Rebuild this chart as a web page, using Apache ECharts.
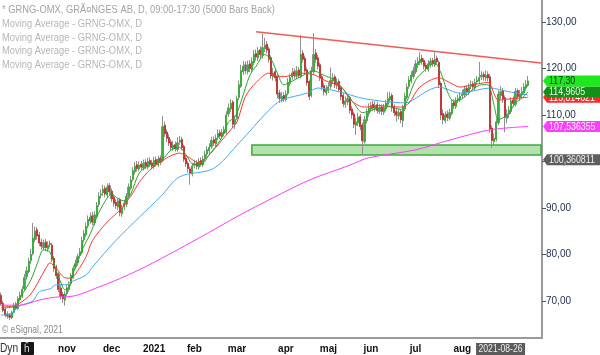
<!DOCTYPE html>
<html><head><meta charset="utf-8">
<script src="https://cdn.jsdelivr.net/npm/echarts@6/dist/echarts.min.js"></script>
<style>html,body{margin:0;padding:0;background:#fff}#c{width:600px;height:355px}</style>
</head><body><div id="c"></div>
<script>
// ---- categories (Swedish trading days) ----
const startDate = '2020-09-18';
const categoryCount = 255;
const holidays = ['2020-12-24','2020-12-25','2020-12-31','2021-01-01','2021-01-06','2021-04-02','2021-04-05','2021-05-13','2021-06-25'];
const monthKeys = ['2020-11','2020-12','2021-01','2021-02','2021-03','2021-04','2021-05','2021-06','2021-07','2021-08','2021-09'];
const monthText = ['nov','dec','2021','feb','mar','apr','maj','jun','jul','aug',''];
const yTicks = [70,80,90,100,110,120,130];
const cursorDate = '2021-08-26';

// ---- price data ----
const openP = [71.2,69.5,68.2,67.2,67.0,66.4,67.6,69.2,68.4,70.3,71.0,72.6,75.2,76.3,78.7,80.2,83.2,85.3,84.2,82.6,
81.5,82.7,81.2,82.3,82.0,79.2,77.3,75.8,72.8,71.4,70.2,71.6,72.5,73.8,75.2,77.3,78.2,79.8,80.4,83.2,
84.3,86.2,87.2,88.3,86.8,88.2,90.8,92.8,93.3,94.2,92.8,94.8,93.6,92.3,91.2,90.2,91.8,88.8,90.2,90.8,
92.6,94.3,96.2,97.8,99.3,98.4,99.4,98.6,99.8,98.8,100.2,99.7,98.9,100.4,99.3,100.7,100.2,107.8,106.3,105.2,
104.2,102.8,103.6,102.6,104.2,104.7,103.2,100.7,99.6,98.4,97.3,99.2,99.7,98.8,100.2,99.3,100.7,101.6,102.3,103.2,
104.7,103.8,105.2,106.2,105.3,106.0,106.3,110.2,111.3,112.8,108.2,109.3,113.8,116.2,119.3,120.8,119.3,121.0,119.8,121.3,
123.2,122.3,124.0,122.8,124.3,125.2,124.2,122.3,118.2,119.3,118.3,114.8,113.2,114.2,113.3,114.7,116.8,118.2,119.3,118.3,
119.7,118.3,123.3,122.2,119.7,117.2,114.2,119.3,123.3,122.3,120.8,118.2,116.3,114.8,115.3,116.2,117.3,118.2,116.3,117.2,
115.8,114.2,112.3,112.8,113.7,111.3,110.2,107.8,108.3,109.7,107.8,104.3,108.8,110.3,111.3,112.3,111.3,112.2,110.8,111.7,
110.6,111.3,112.3,113.3,114.2,111.8,110.7,109.8,110.7,108.8,111.3,113.8,116.2,117.3,118.3,119.3,120.8,121.3,122.2,121.7,
120.7,119.8,120.8,121.7,120.8,122.2,121.3,116.8,110.3,108.8,110.2,109.3,110.3,112.7,111.8,113.2,113.3,114.2,114.3,115.7,
114.8,116.2,116.7,115.8,117.2,117.3,118.2,118.7,118.0,118.7,118.2,107.2,104.3,104.8,108.3,114.2,115.3,113.7,109.3,110.2,
110.8,113.2,112.3,115.2,113.8,114.3,114.8,115.8,116.4];
const closeP = [69.4,68.0,67.0,66.8,66.5,67.5,69.0,68.5,70.5,71.2,72.5,75.0,76.5,78.5,80.0,83.5,85.0,84.0,82.5,81.8,
82.5,81.5,82.0,82.2,79.0,77.0,75.5,72.5,71.0,70.5,71.5,72.8,73.5,75.5,77.0,78.0,79.5,80.5,83.0,84.5,
86.0,87.5,88.0,87.0,88.5,90.5,92.5,93.0,94.0,93.0,94.5,93.5,92.0,91.0,90.5,91.5,89.0,90.0,91.0,92.5,
94.5,96.0,98.0,99.0,98.5,99.2,98.8,99.5,99.0,100.0,99.5,99.0,100.2,99.5,100.5,99.8,107.5,106.0,105.0,104.0,
103.0,103.5,102.8,104.0,104.5,103.0,100.5,99.5,98.5,97.5,99.0,99.5,99.0,100.0,99.5,100.5,101.5,102.5,103.0,104.5,
104.0,105.0,106.0,105.5,106.2,106.5,110.0,111.5,112.5,108.0,109.0,113.5,116.5,119.5,120.5,119.5,120.8,120.0,121.5,123.0,
122.5,123.8,123.0,124.5,125.0,124.0,122.0,118.5,119.0,118.0,114.5,113.5,114.0,113.5,114.5,117.0,118.0,119.0,118.5,119.5,
118.5,123.0,122.0,119.5,117.0,114.0,119.5,123.0,122.0,120.5,118.0,116.0,115.0,115.5,116.0,117.5,118.0,116.5,117.0,115.5,
114.0,112.5,113.0,113.5,111.0,110.0,108.0,108.5,109.5,107.5,104.5,109.0,110.5,111.5,112.0,111.5,112.0,111.0,111.5,110.8,
111.5,112.5,113.5,114.0,111.5,110.5,110.0,110.5,109.0,111.5,114.0,116.0,117.5,118.5,119.5,121.0,121.5,122.0,121.5,120.5,
120.0,121.0,121.5,121.0,122.0,121.5,116.5,110.0,109.0,110.0,109.5,110.5,112.5,112.0,113.0,113.5,114.0,114.5,115.5,115.0,
116.0,116.5,116.0,117.0,117.5,118.0,118.5,118.2,118.5,118.0,107.0,104.5,105.0,108.5,114.5,115.0,113.5,109.5,110.0,111.0,
113.0,112.5,115.0,114.0,114.5,115.0,116.0,116.5,117.3];
const lowP = [69.0,67.6,66.5,66.2,65.9,66.1,67.3,68.0,68.1,69.9,70.6,72.2,74.6,75.9,78.0,79.8,82.6,83.2,81.8,81.0,
80.9,80.8,80.6,81.5,78.4,76.3,74.8,71.9,70.3,69.6,69.0,71.0,72.0,73.3,74.8,76.8,77.6,79.1,80.0,82.6,
83.8,85.6,86.6,86.3,86.2,87.8,90.2,92.0,92.6,92.3,92.2,92.8,91.3,90.3,89.8,89.6,88.2,88.1,89.5,90.2,
92.1,93.8,95.7,97.2,97.8,97.9,98.2,98.1,98.4,98.3,98.9,98.3,98.4,98.9,98.8,99.2,99.9,105.3,104.2,103.3,
102.3,102.2,102.1,102.1,103.6,102.4,99.9,98.8,97.6,95.0,96.8,98.5,98.3,98.3,98.9,98.8,100.1,101.0,101.7,102.7,
103.3,103.2,104.6,104.8,104.8,105.4,105.8,109.6,110.6,107.2,107.0,108.9,113.2,115.8,118.6,118.8,118.7,119.2,119.2,120.7,
121.7,121.6,122.2,122.1,123.5,123.2,121.3,117.8,117.4,117.2,113.6,112.6,112.7,112.8,112.9,114.2,116.2,117.6,117.8,117.7,
117.9,117.9,121.3,118.8,116.3,113.2,113.8,118.8,121.2,119.8,117.3,115.3,114.2,114.2,114.7,115.6,116.7,115.8,115.6,114.9,
113.2,111.7,111.5,112.1,110.3,109.2,107.2,105.7,107.6,106.7,101.4,103.8,108.2,109.6,110.6,110.8,110.7,110.3,110.2,110.0,
110.0,110.8,111.8,112.7,110.7,109.7,108.6,109.0,108.2,107.4,110.8,113.3,115.6,116.8,117.8,118.8,120.1,120.7,120.8,119.8,
119.3,119.3,120.2,120.4,120.3,120.8,115.8,108.9,108.0,108.2,108.7,108.8,109.9,111.3,111.3,112.6,112.8,113.6,113.8,114.3,
114.3,115.6,115.3,115.3,116.6,116.8,117.5,117.4,117.3,117.2,106.2,102.9,103.4,104.3,107.8,113.4,112.6,106.3,108.2,109.3,
110.2,111.7,111.8,113.3,113.1,113.7,114.3,115.2,116.0];
const highP = [71.8,70.0,68.6,67.8,67.4,67.9,69.6,69.8,71.0,72.0,73.2,75.8,77.4,79.3,81.2,86.8,86.0,85.9,84.8,83.4,
83.2,83.3,82.8,83.0,82.5,79.7,77.8,76.2,73.4,72.0,72.1,73.5,74.2,76.0,77.6,78.9,80.2,81.4,83.8,85.3,
86.9,88.4,89.0,89.2,89.3,91.3,93.4,94.0,95.0,94.8,95.3,95.4,94.2,92.9,91.9,92.2,92.2,90.7,91.8,93.2,
95.3,96.9,98.8,99.9,100.1,100.0,100.1,100.4,100.5,100.8,100.9,100.3,101.0,101.1,101.2,101.3,109.8,108.6,106.9,105.9,
104.8,104.4,104.3,105.2,105.5,105.3,103.6,101.2,100.1,98.9,99.7,100.4,100.3,100.7,100.9,101.2,102.3,103.3,103.9,105.3,
105.4,105.8,106.9,106.8,107.0,107.6,110.8,112.5,113.4,113.2,109.9,114.2,117.4,120.8,121.6,121.5,121.7,121.8,122.4,124.0,
124.1,124.6,124.8,127.5,126.6,125.9,124.7,122.8,120.1,119.9,118.8,115.4,114.9,114.9,115.3,117.9,118.9,120.1,120.0,120.5,
120.3,127.2,124.0,122.8,120.2,117.6,120.4,127.6,124.2,122.9,121.3,118.8,116.9,116.4,117.0,120.2,119.0,118.7,117.9,117.7,
116.3,114.8,114.0,114.5,114.1,111.9,110.7,109.4,110.5,110.2,108.3,109.8,111.4,112.5,112.8,113.0,112.9,112.8,112.4,112.3,
112.4,113.3,114.9,115.0,114.7,112.3,111.4,111.3,111.2,112.2,114.8,116.8,118.3,119.4,120.4,121.8,122.4,123.5,122.9,122.2,
121.3,121.8,122.3,122.3,123.5,122.8,121.7,117.2,111.2,110.8,111.0,111.3,113.2,113.4,113.8,114.4,114.9,115.4,116.3,116.4,
116.8,117.4,117.3,117.8,118.4,121.4,119.4,119.3,119.6,119.4,118.8,107.8,106.0,109.3,115.3,116.2,115.8,114.2,111.2,111.9,
113.8,114.0,115.8,115.7,115.4,116.0,116.9,117.5,118.4];

// ---- moving averages as [barIndex, value] ----
const maShort = [[0,68.5],[6,68.8],[10,71.5],[14,74.5],[17,78],[20,81],[23,80.5],[26,76.5],[29,73],[30,72.4],[32,73],[35,77.5],[37,80],
[42,84.5],[45,88],[49,91.5],[52,93],[55,92],[58,91.5],[61,93],[65,97.5],[70,99.3],[76,100.5],[80,102.5],[84,103],[87,101.5],[90,99.5],
[94,99.3],[98,101.5],[103,104.5],[107,108.5],[110,109.5],[113,113],[117,118.5],[120,120.5],[124,123],[127,122],[130,119],[133,116.5],
[137,117.3],[142,118.5],[147,119.5],[152,118.5],[157,117.5],[162,115],[166,112.5],[170,110.5],[174,111],[178,111.5],[183,111.8],
[188,111.2],[191,113],[195,117.5],[199,119.5],[204,121.2],[207,119],[210,115],[213,113],[217,113.5],[222,115.5],[226,116.5],
[229,116.5],[232,112],[234,109],[238,110],[242,112.5],[246,114],[248,114.96]];
const maMid = [[0,69],[5,68.8],[9,69.6],[14,71.5],[18,74.5],[21,77],[23,78.2],[26,77],[30,75],[33,74.9],[36,76.5],[40,79.5],[43,83],
[50,87],[56,89.6],[61,92.5],[65,95.5],[70,98.2],[77,100.5],[84,101.8],[88,101],[93,99.7],[96,100.5],[101,103],[108,106.8],[111,108.5],
[115,114],[120,117],[126,119],[130,118.3],[134,118.3],[140,119],[147,118.7],[152,117.5],[160,116],[165,113],[171,111.7],[178,112],
[188,111.7],[192,112.6],[197,116],[206,118],[211,117],[216,116],[222,116.5],[229,117],[234,113.2],[240,113.5],[248,113.81]];
const maLong = [[0,67],[4,67.2],[9,69],[15,70],[18,72],[23,72.6],[26,73.5],[31,73.5],[32,73.9],[40,75.6],[43,77.3],[54,83],[65,88],
[75,92.4],[84,96.7],[100,98.5],[112,104],[126,111],[132,113.2],[144,114.7],[149,115.8],[159,115],[171,113.5],[190,112.6],[192,112.8],
[206,116],[216,114.7],[230,115.8],[239,115],[248,114.3]];
const maVeryLong = [[0,69.1],[9,69.1],[18,70.2],[28,70.9],[31,70.9],[46,73],[65,76.7],[93,83.5],[112,88.4],[128,92.2],[145,96],
[164,99.2],[173,100.8],[195,102.5],[211,104.6],[230,106.8],[248,107.54]];

// ---- annotations ----
const trendLine = [[120,127.9],[254,121.2]];
const supportZone = [[118,101.4],[254,103.55]];
const tagValues = [100.360811, 107.536355, 113.814621, 114.9605, 117.30];
const tagTexts = ['100,360811','107,536355','113,814621','114,9605','117,30'];
const tagFill = ['#5e5e5e','#ff3cff','#ff2a2a','#149014','#1ee81e'];
const tagInk = ['#f2f2f2','#ffffff','#ffffff','#eaffea','#0a2a0a'];
const legendLines = ['* GRNG-OMX, GRÃ¤NGES AB, D, 09:00-17:30 (5000 Bars Back)','Moving Average - GRNG-OMX, D','Moving Average - GRNG-OMX, D','Moving Average - GRNG-OMX, D','Moving Average - GRNG-OMX, D'];

function buildTradingDays(start, hol, count){
  const out=[]; const d=new Date(start+'T00:00:00Z');
  while(out.length<count){
    const wd=d.getUTCDay(); const s=d.toISOString().slice(0,10);
    if(wd!==0&&wd!==6&&hol.indexOf(s)<0) out.push(s);
    d.setUTCDate(d.getUTCDate()+1);
  }
  return out;
}
const dates = buildTradingDays(startDate, holidays, categoryCount);
const monthStart = {};
dates.forEach((d,i)=>{const k=d.slice(0,7); const m=monthKeys.indexOf(k); if(m>=0 && !(k in monthStart)) monthStart[k]=i;});
const tickIdx = {}; monthKeys.forEach((k,m)=>{ if(k in monthStart) tickIdx[monthStart[k]] = monthText[m]; });

const FONT = "'Liberation Sans',Arial,sans-serif";
const candles = openP.map((o,i)=>[o, closeP[i], lowP[i], highP[i]]);
const bodies = openP.map((o,i)=>[o, closeP[i], Math.min(o,closeP[i]), Math.max(o,closeP[i])]);

function maSeries(name, data, color){
  return {name, type:'line', data, symbol:'none', smooth:0.3, lineStyle:{color, width:1}, z:4, silent:true};
}

const chart = echarts.init(document.getElementById('c'), null, {renderer:'canvas'});
chart.setOption({
  animation:false,
  grid:{left:0, right:58, top:0, bottom:17},
  xAxis:{type:'category', data:dates, boundaryGap:true,
    axisLine:{lineStyle:{color:'#9a9a9a', width:2}},
    axisTick:{alignWithLabel:true, length:3, lineStyle:{color:'#555'}, interval:(i)=> i in tickIdx},
    axisLabel:{interval:(i)=> !!tickIdx[i], formatter:(v,i)=> tickIdx[i]||'', color:'#111', fontWeight:'bold',
      fontFamily:FONT, fontSize:10, margin:6},
    splitLine:{show:false}
  },
  yAxis:{type:'value', position:'right', min:62.04, max:134.73, scale:true,
    axisLine:{show:true, lineStyle:{color:'#9a9a9a', width:2}},
    axisTick:{show:true, length:4, customValues:yTicks, lineStyle:{color:'#555'}},
    axisLabel:{customValues:yTicks, formatter:(v)=> v.toFixed(2).replace('.',','), color:'#24344f', fontFamily:FONT, fontSize:10, margin:4},
    splitLine:{show:false}
  },
  series:[
    {name:'GRNG wicks', type:'candlestick', data:candles, barWidth:'80%', z:2, silent:true,
      itemStyle:{color:'#909090', color0:'#909090', borderColor:'#909090', borderColor0:'#909090', borderWidth:1},
      markArea:{silent:true, itemStyle:{color:'#b4e0ae', borderColor:'#3aad3a', borderWidth:1.5},
        data:[[{coord:supportZone[0]},{coord:supportZone[1]}]]},
      markLine:{silent:true, symbol:'none', label:{show:false}, lineStyle:{color:'#f25a5a', width:1.5, type:'solid'},
        data:[[{coord:trendLine[0]},{coord:trendLine[1]}]]}
    },
    {name:'GRNG', type:'candlestick', data:bodies, barWidth:'70%', z:3, silent:true,
      itemStyle:{color:'#26b526', color0:'#d02222', borderColor:'#26b526', borderColor0:'#d02222', borderWidth:0.6}},
    maSeries('MA long', maLong, '#45a8f5'),
    maSeries('MA mid', maMid, '#ff3535'),
    maSeries('MA short', maShort, '#2aa52a'),
    maSeries('MA very long', maVeryLong, '#ff3cff')
  ]
});

// ---- overlay texts and price tags, positioned through the chart's own scales ----
const yPix = v => chart.convertToPixel({yAxisIndex:0}, v);
const xPix = d => chart.convertToPixel({xAxisIndex:0}, d);
const axisRight = chart.convertToPixel({gridIndex:0}, [dates.length-1, 0]);
const gridRect = chart.getModel().getComponent('grid').coordinateSystem.getRect();
const ax = gridRect.x + gridRect.width;
const gBottom = gridRect.y + gridRect.height;
const graphics = [];
legendLines.forEach((t,k)=>graphics.push({type:'text', x:2, y:10+k*13.8, scaleX:0.85, silent:true,
  style:{text:t, fill:k===0?'#a2a2a2':'#b6b6b6', font:'11px '+FONT, verticalAlign:'middle'}}));
graphics.push({type:'text', x:2, y:gBottom-8, scaleX:0.85, silent:true, style:{text:'© eSignal, 2021', fill:'#8a8a8a', font:'10px '+FONT, verticalAlign:'middle'}});
graphics.push({type:'text', x:0, y:gBottom+11, scaleX:0.85, silent:true, style:{text:'Dyn', fill:'#333', font:'12px '+FONT, verticalAlign:'middle'}});
graphics.push({type:'rect', silent:true, shape:{x:21, y:gBottom+4, width:13, height:13, r:1}, style:{fill:'#161616'}});
graphics.push({type:'text', x:24, y:gBottom+11, silent:true, style:{text:'ĥ', fill:'#ddd', font:'10px '+FONT, verticalAlign:'middle'}});
// cursor date box on the x axis
const cx = xPix(cursorDate);
graphics.push({type:'rect', silent:true, shape:{x:cx-24.5, y:gBottom+5, width:49, height:13}, style:{fill:'#5b5b5b'}, z:10});
graphics.push({type:'text', x:cx, y:gBottom+11.5, scaleX:0.86, silent:true, z:11,
  style:{text:cursorDate, fill:'#eeeeee', font:'10px '+FONT, align:'center', verticalAlign:'middle'}});
// value tags
tagValues.forEach((v,k)=>{
  const y = yPix(v);
  graphics.push({type:'polygon', silent:true, z:20+k, shape:{points:[[ax+1,y],[ax+5,y-5.5],[600,y-5.5],[600,y+5.5],[ax+5,y+5.5]]},
    style:{fill:tagFill[k]}});
  graphics.push({type:'text', x:ax+7, y:y+0.5, scaleX:0.88, silent:true, z:20+k,
    style:{text:tagTexts[k], fill:tagInk[k], font:'10px '+FONT, verticalAlign:'middle'}});
});
chart.setOption({graphic:graphics});
</script></body></html>
